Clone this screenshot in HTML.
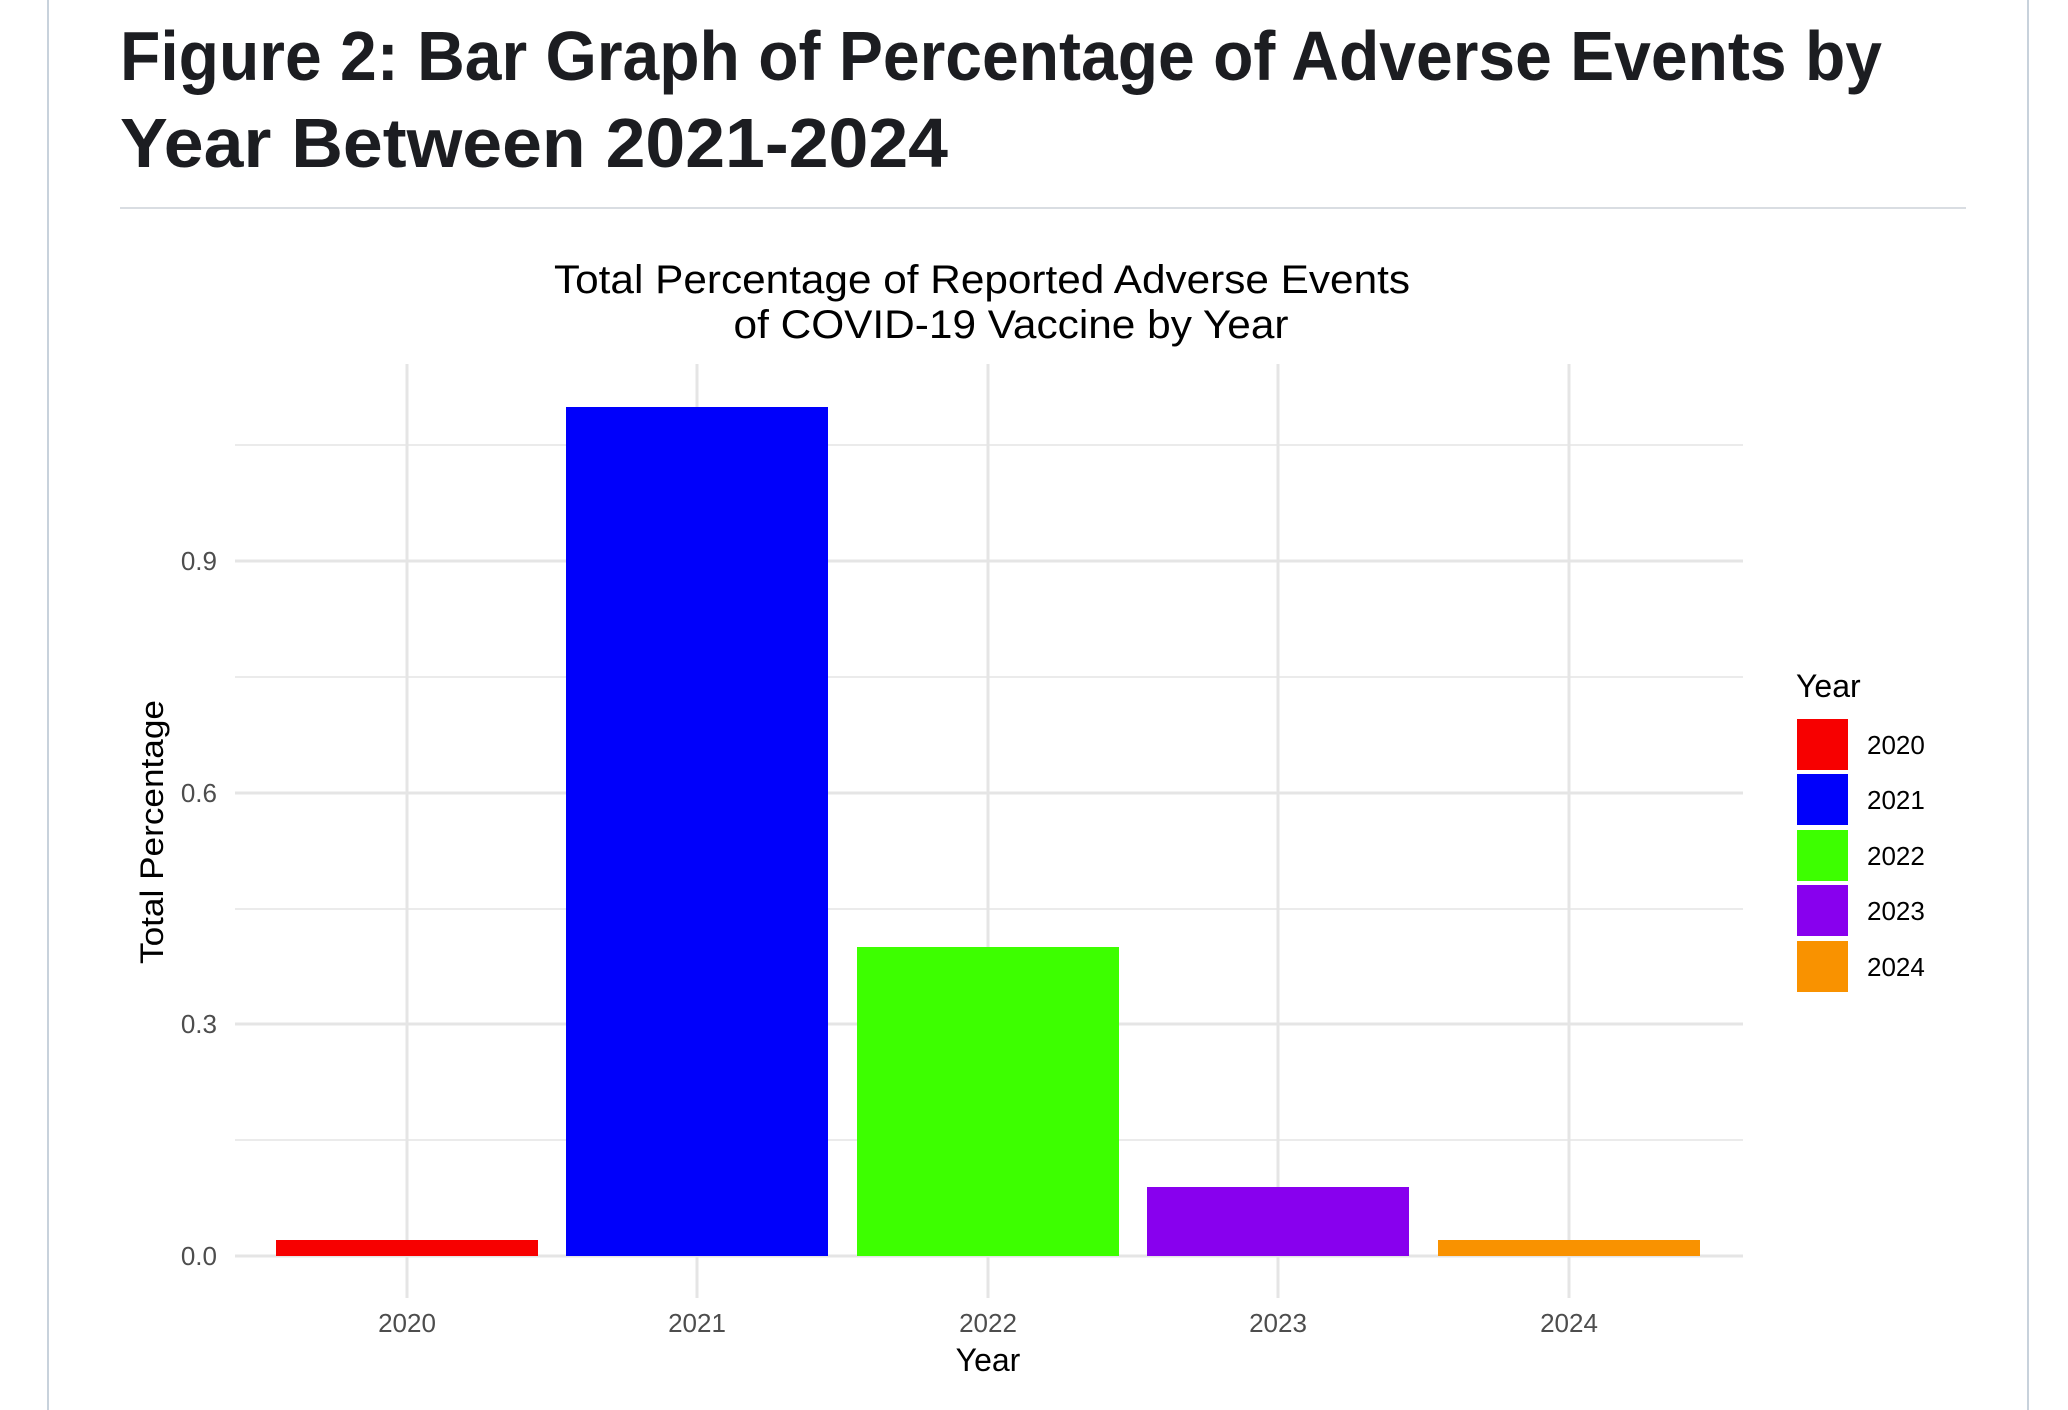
<!DOCTYPE html>
<html><head><meta charset="utf-8"><style>
html,body{margin:0;padding:0;background:#fff;width:2068px;height:1410px;overflow:hidden}
svg{display:block}
</style></head><body>
<svg width="2068" height="1410" viewBox="0 0 2068 1410" xmlns="http://www.w3.org/2000/svg" font-family="'Liberation Sans', Arial, sans-serif">
<rect x="0" y="0" width="2068" height="1410" fill="#fff"/>
<line x1="48" y1="0" x2="48" y2="1410" stroke="#c8d2dc" stroke-width="2"/>
<line x1="2028" y1="0" x2="2028" y2="1410" stroke="#c8d2dc" stroke-width="2"/>
<text x="120" y="80" font-size="70" font-weight="bold" fill="#1c1d21" textLength="1762" lengthAdjust="spacingAndGlyphs">Figure 2: Bar Graph of Percentage of Adverse Events by</text>
<text x="120" y="167" font-size="70" font-weight="bold" fill="#1c1d21" textLength="828" lengthAdjust="spacingAndGlyphs">Year Between 2021-2024</text>
<line x1="120" y1="208" x2="1966" y2="208" stroke="#d9dde2" stroke-width="2"/>
<!-- chart title -->
<text x="982" y="293" font-size="40" text-anchor="middle" fill="#000" textLength="856" lengthAdjust="spacingAndGlyphs">Total Percentage of Reported Adverse Events</text>
<text x="1011" y="338" font-size="40" text-anchor="middle" fill="#000" textLength="555" lengthAdjust="spacingAndGlyphs">of COVID-19 Vaccine by Year</text>
<!-- grid -->
<g stroke="#ebebeb" stroke-width="2">
<line x1="235" y1="445" x2="1743" y2="445"/>
<line x1="235" y1="677" x2="1743" y2="677"/>
<line x1="235" y1="909" x2="1743" y2="909"/>
<line x1="235" y1="1140" x2="1743" y2="1140"/>
</g>
<g stroke="#e5e5e5" stroke-width="3">
<line x1="235" y1="561" x2="1743" y2="561"/>
<line x1="235" y1="793" x2="1743" y2="793"/>
<line x1="235" y1="1024" x2="1743" y2="1024"/>
<line x1="235" y1="1256" x2="1743" y2="1256"/>
<line x1="407" y1="364" x2="407" y2="1298"/>
<line x1="697" y1="364" x2="697" y2="1298"/>
<line x1="988" y1="364" x2="988" y2="1298"/>
<line x1="1278" y1="364" x2="1278" y2="1298"/>
<line x1="1569" y1="364" x2="1569" y2="1298"/>
</g>
<!-- bars -->
<rect x="276" y="1240" width="262" height="16" fill="#f70000"/>
<rect x="566" y="407" width="262" height="849" fill="#0000fb"/>
<rect x="857" y="947" width="262" height="309" fill="#3dff00"/>
<rect x="1147" y="1187" width="262" height="69" fill="#8800ee"/>
<rect x="1438" y="1240" width="262" height="16" fill="#f99200"/>
<!-- y ticks -->
<g font-size="26" fill="#4d4d4d" text-anchor="end">
<text x="217" y="570">0.9</text>
<text x="217" y="802">0.6</text>
<text x="217" y="1033">0.3</text>
<text x="217" y="1265">0.0</text>
</g>
<g font-size="26" fill="#4d4d4d" text-anchor="middle">
<text x="407" y="1332">2020</text>
<text x="697" y="1332">2021</text>
<text x="988" y="1332">2022</text>
<text x="1278" y="1332">2023</text>
<text x="1569" y="1332">2024</text>
</g>
<text x="988" y="1371" font-size="32" text-anchor="middle" fill="#000">Year</text>
<text transform="translate(163,832) rotate(-90)" font-size="32" text-anchor="middle" fill="#000" textLength="264" lengthAdjust="spacingAndGlyphs">Total Percentage</text>
<!-- legend -->
<text x="1796" y="697" font-size="32" fill="#000">Year</text>
<rect x="1797" y="719" width="51" height="51" fill="#f70000"/>
<rect x="1797" y="774" width="51" height="51" fill="#0000fb"/>
<rect x="1797" y="830" width="51" height="51" fill="#3dff00"/>
<rect x="1797" y="885" width="51" height="51" fill="#8800ee"/>
<rect x="1797" y="941" width="51" height="51" fill="#f99200"/>
<g font-size="26" fill="#000">
<text x="1867" y="754">2020</text>
<text x="1867" y="809">2021</text>
<text x="1867" y="865">2022</text>
<text x="1867" y="920">2023</text>
<text x="1867" y="976">2024</text>
</g>
</svg>
</body></html>
